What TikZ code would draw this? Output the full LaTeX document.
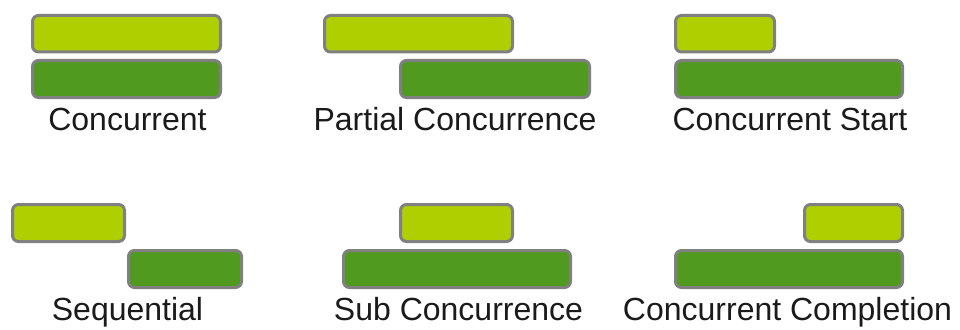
\documentclass[tikz,border=0pt]{standalone}
\usepackage{fontspec}
\setmainfont{Liberation Sans}
\definecolor{lightbar}{RGB}{175,207,0}
\definecolor{darkbar}{RGB}{80,154,31}
\definecolor{barline}{RGB}{128,128,128}
\definecolor{captext}{RGB}{26,26,26}
\tikzset{
  taskbox/.style={draw=barline, line width=3pt, rounded corners=6pt, inner sep=0pt},
  caption/.style={anchor=base, text=captext, font=\fontsize{32}{37}\selectfont, inner sep=0pt},
}
% \taskbar{name}{left}{top}{right}{bottom}{fill colour}, outer edges in px
\newcommand\taskbar[6]{%
  \node[taskbox, fill=#6, minimum width={(#4)-(#2)-3pt}, minimum height={(#5)-(#3)-3pt}]
    (#1) at ({((#2)+(#4))/2},{((#3)+(#5))/2}) {};}
\begin{document}
\begin{tikzpicture}[x=1pt,y=-1pt]
  \useasboundingbox (0,0) rectangle (960,329);
  % Concurrent
  \taskbar{c1a}{31}{14}{222}{53.5}{lightbar}
  \taskbar{c1b}{31}{59}{222}{99}{darkbar}
  \node[caption] (t1) at (127.5,130) {Concurrent};
  % Partial Concurrence
  \taskbar{c2a}{323}{14}{514}{53.5}{lightbar}
  \taskbar{c2b}{399}{59}{591}{99}{darkbar}
  \node[caption] (t2) at (455,130) {Partial Concurrence};
  % Concurrent Start
  \taskbar{c3a}{674}{14}{776}{53.5}{lightbar}
  \taskbar{c3b}{674}{59}{904}{99}{darkbar}
  \node[caption] (t3) at (790,130) {Concurrent Start};
  % Sequential
  \taskbar{c4a}{11}{203}{126}{243}{lightbar}
  \taskbar{c4b}{127}{249}{243}{289}{darkbar}
  \node[caption] (t4) at (127.5,320) {Sequential};
  % Sub Concurrence
  \taskbar{c5a}{399}{203}{514}{243}{lightbar}
  \taskbar{c5b}{342}{249}{572}{289}{darkbar}
  \node[caption] (t5) at (458.5,320) {Sub Concurrence};
  % Concurrent Completion
  \taskbar{c6a}{803}{203}{904}{243}{lightbar}
  \taskbar{c6b}{674}{249}{904}{289}{darkbar}
  \node[caption] (t6) at (787.5,320) {Concurrent Completion};
\end{tikzpicture}
\end{document}
